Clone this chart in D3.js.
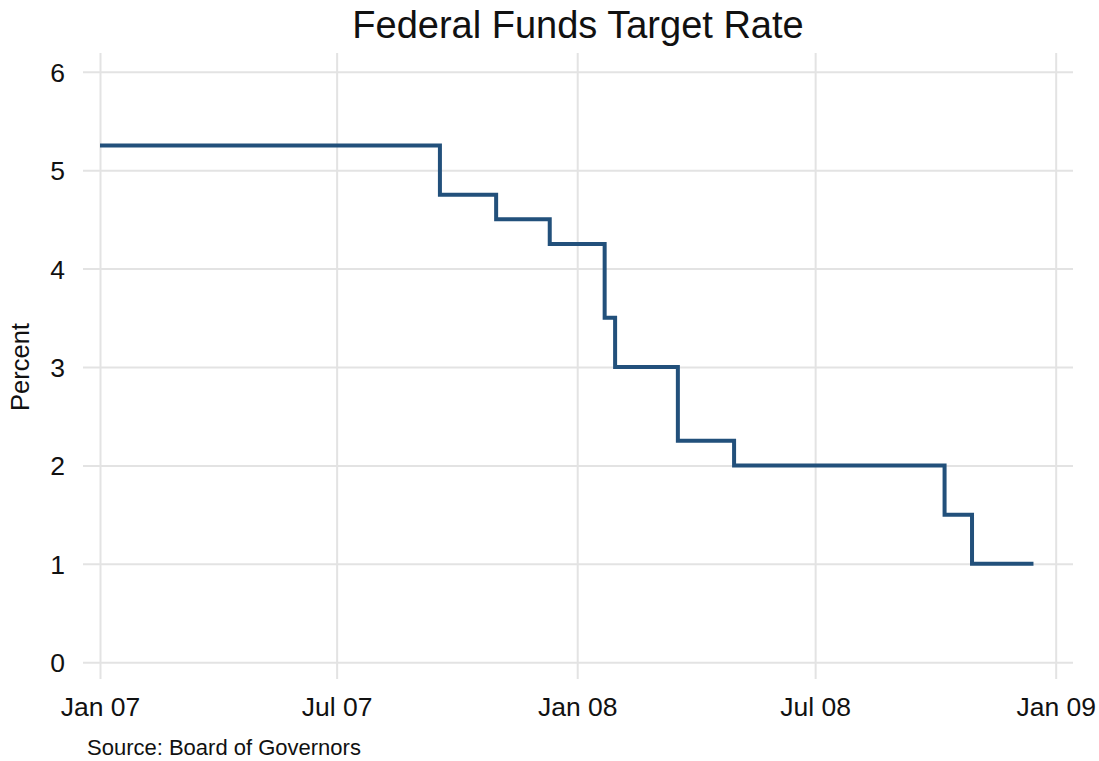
<!DOCTYPE html>
<html>
<head>
<meta charset="utf-8">
<script src="https://cdn.jsdelivr.net/npm/d3@7/dist/d3.min.js"></script>
<style>
  body { margin: 0; background: #fff; }
  svg text { font-family: "Liberation Sans", Arial, Helvetica, sans-serif; fill: #111; }
</style>
</head>
<body>
<div id="chart"></div>
<script>
'use strict'

// fed target rate, date of each change and the new level
const changeDates = ['2007-01-01', '2007-09-18', '2007-10-31', '2007-12-11', '2008-01-22',
                     '2008-01-30', '2008-03-18', '2008-04-30', '2008-10-08', '2008-10-29', '2008-12-15'];
const rates = [5.25, 4.75, 4.50, 4.25, 3.50, 3.00, 2.25, 2.00, 1.50, 1.00, 1.00];

const yTicks = [0, 1, 2, 3, 4, 5, 6];
const xTickDates = ['2007-01-01', '2007-07-01', '2008-01-01', '2008-07-01', '2009-01-01'];
const xTickLabels = ['Jan 07', 'Jul 07', 'Jan 08', 'Jul 08', 'Jan 09'];

let parse = d3.utcParse('%Y-%m-%d');
let data = changeDates.map((d, i) => ({date: parse(d), rate: rates[i]}));
let ticks = xTickDates.map(parse);

let svg = d3.select('#chart')
	.append('svg')
	.attr('width', 1099)
	.attr('height', 761);

let margin = {top: 53, right: 26, bottom: 82, left: 83},
    width = +svg.attr('width') - margin.left - margin.right,
    height = +svg.attr('height') - margin.top - margin.bottom;

let x = d3.scaleUtc()
    .domain([ticks[0], ticks[ticks.length - 1]])
    .range([17, 972.7]);

let y = d3.scaleLinear()
    .domain([-0.17, 6.19])
    .range([height, 0]);

let g = svg.append('g')
    .attr('transform', 'translate(' + margin.left + ',' + margin.top + ')');

// grid lines come from the axes' ticks
let yAxis = d3.axisLeft(y)
    .tickValues(yTicks)
    .tickSize(-width)
    .tickPadding(18)
    .tickFormat(d3.format('d'));

let xAxis = d3.axisBottom(x)
    .tickValues(ticks)
    .tickSize(-height)
    .tickPadding(18)
    .tickFormat((d, i) => xTickLabels[i]);

let gy = g.append('g').attr('class', 'axis axis--y').call(yAxis);
let gx = g.append('g').attr('class', 'axis axis--x')
    .attr('transform', 'translate(0,' + height + ')')
    .call(xAxis);

[gx, gy].forEach(a => {
	a.select('.domain').remove();
	a.selectAll('.tick line').attr('stroke', '#e3e3e3').attr('stroke-width', 2);
	a.selectAll('.tick text').attr('font-size', 26.5).attr('fill', '#111');
});
gy.selectAll('.tick text').attr('dy', '0.36em');

let line = d3.line()
    .curve(d3.curveStepAfter)
    .x(d => x(d.date))
    .y(d => y(d.rate));

g.append('path')
    .datum(data)
    .attr('fill', 'none')
    .attr('stroke', '#22507b')
    .attr('stroke-width', 4)
    .attr('stroke-linejoin', 'miter')
    .attr('d', line);

svg.append('text')
    .attr('x', margin.left + width / 2)
    .attr('y', 38)
    .attr('text-anchor', 'middle')
    .attr('font-size', 38)
    .text('Federal Funds Target Rate');

svg.append('text')
    .attr('transform', 'translate(29,' + (margin.top + y(3)) + ') rotate(-90)')
    .attr('text-anchor', 'middle')
    .attr('font-size', 25.5)
    .text('Percent');

svg.append('text')
    .attr('x', 87)
    .attr('y', 755)
    .attr('font-size', 22)
    .text('Source: Board of Governors');
</script>
</body>
</html>
